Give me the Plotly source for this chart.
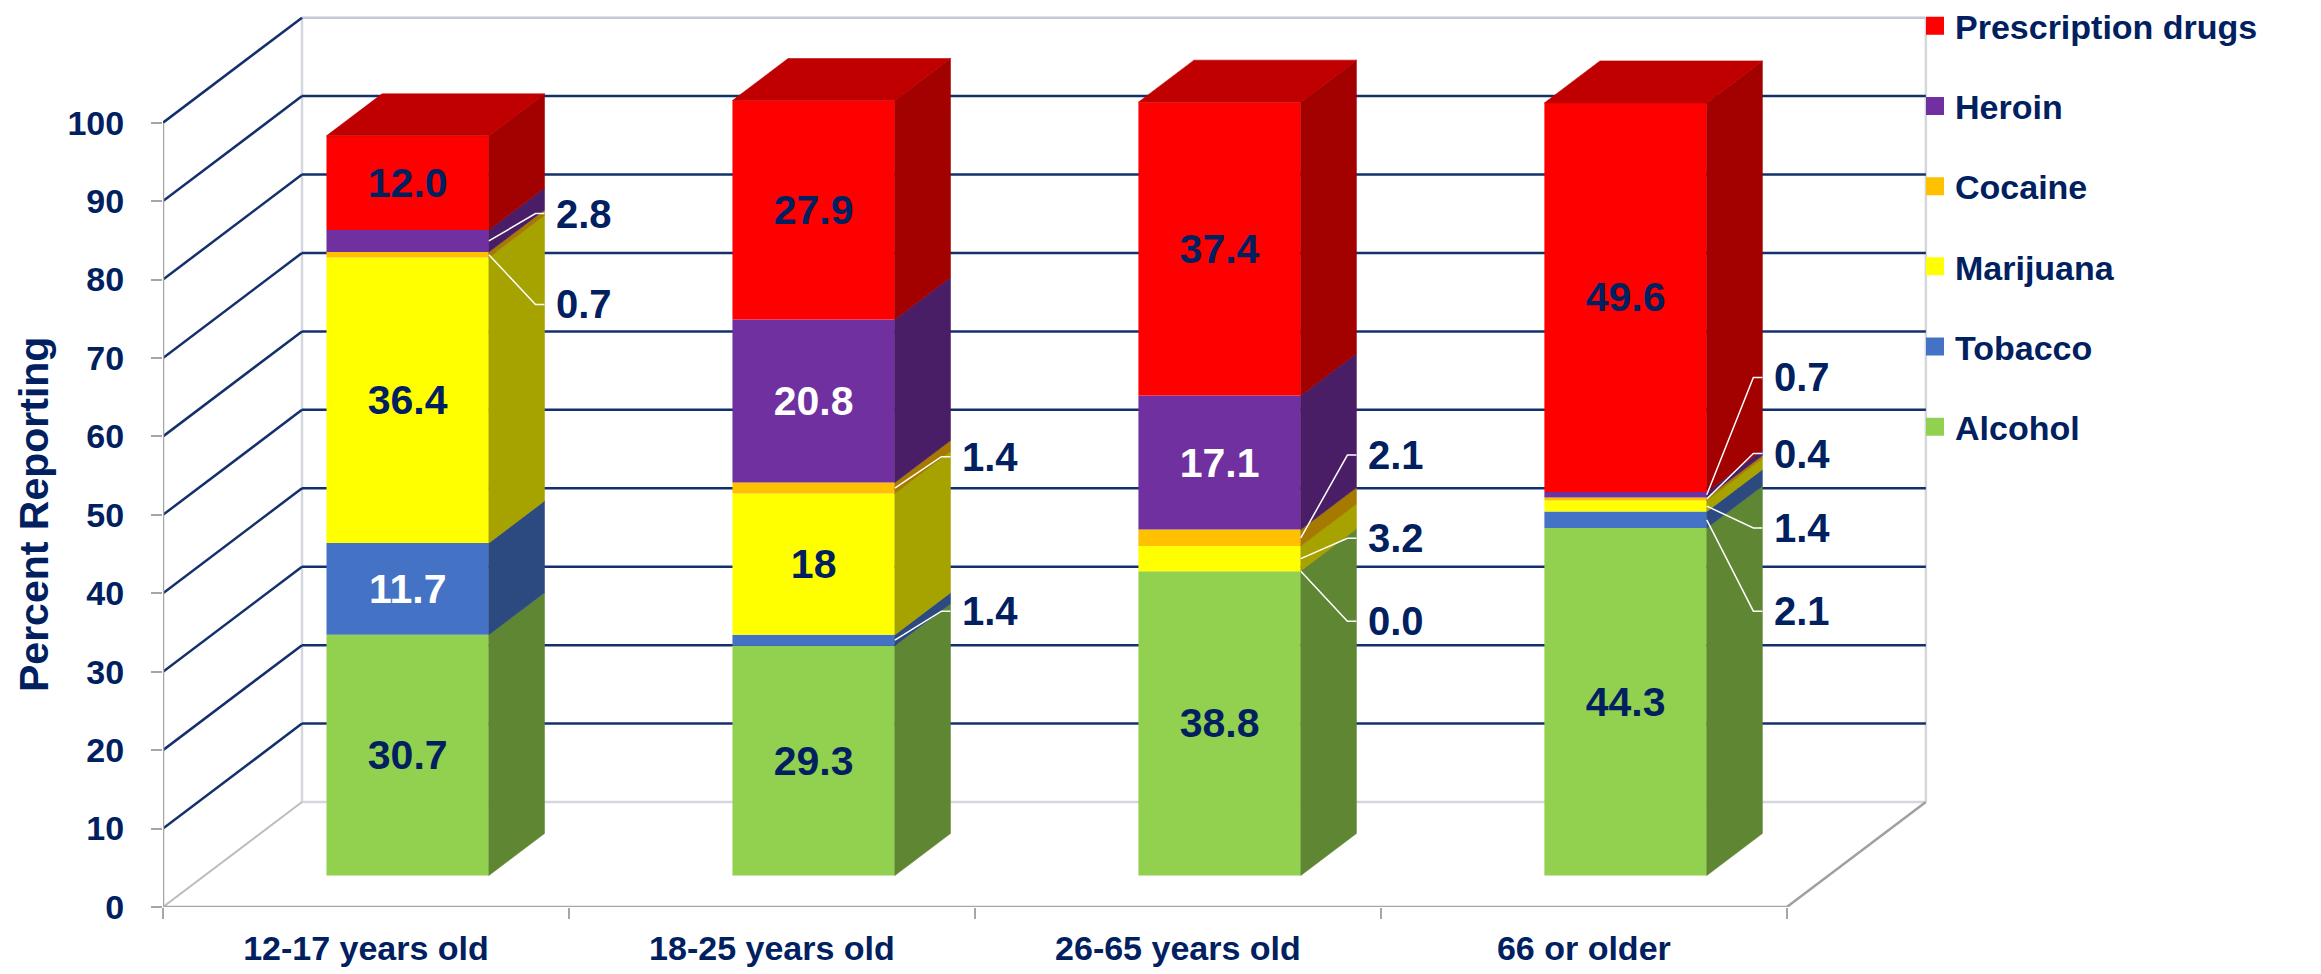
import plotly.graph_objects as go

# ---------------- data ----------------
categories = ["12-17 years old", "18-25 years old", "26-65 years old", "66 or older"]
series_names = ["Alcohol", "Tobacco", "Marijuana", "Cocaine", "Heroin", "Prescription drugs"]
alcohol = [30.7, 29.3, 38.8, 44.3]
tobacco = [11.7, 1.4, 0.0, 2.1]
marijuana = [36.4, 18, 3.2, 1.4]
cocaine = [0.7, 1.4, 2.1, 0.4]
heroin = [2.8, 20.8, 17.1, 0.7]
prescription = [12.0, 27.9, 37.4, 49.6]
y_ticks = list(range(0, 101, 10))
series_values = [alcohol, tobacco, marijuana, cocaine, heroin, prescription]

# ---------------- styles ----------------
front_colors = ["#92D050", "#4472C4", "#FFFF00", "#FFC000", "#7030A0", "#FF0000"]
side_colors = ["#5F8733", "#2D4A80", "#A6A300", "#A67A00", "#4A1E66", "#A30000"]
top_color = "#C00000"
inside_text_colors = ["#002060", "#FFFFFF", "#002060", "#002060", "#FFFFFF", "#002060"]
NAVY = "#002060"
GRID = "#13306C"
WALL = "#D4D7DD"
AXIS = "#A6A6A6"
FONT = "Liberation Sans, Arial, sans-serif"

# outside data-label placement (series index, category index) -> label height on bar front plane
outside_label_pos = {
    (4, 0): 84.4, (3, 0): 72.8,
    (3, 1): 53.4, (1, 1): 33.7,
    (3, 2): 53.6, (2, 2): 43.0, (1, 2): 32.4,
    (4, 3): 63.5, (3, 3): 53.8, (2, 3): 44.3, (1, 3): 33.7,
}

# ---------------- 3-D projection geometry ----------------
W, H = 2321, 974
ML, MR, MT, MB = 163, 388, 5, 67
X0, X1 = -0.5, 3.86
Y0, Y1 = 0, 115
px_x = (W - ML - MR) / (X1 - X0)
px_y = (H - MT - MB) / (Y1 - Y0)
DX = 139 / px_x          # full depth, x-direction (data units)
DY = 105 / px_y          # full depth, y-direction (data units)
FRONT = 0.3              # bar front plane depth fraction
BDEPTH = 0.4             # bar depth fraction
BAR_W = 0.4
ox, oy = FRONT * DX, FRONT * DY
ddx, ddy = BDEPTH * DX, BDEPTH * DY
n = len(categories)

fig = go.Figure()

# stacked bases
bases = []
cum = [0.0] * n
for vals in series_values:
    bases.append(cum[:])
    cum = [c + v for c, v in zip(cum, vals)]

# side faces (drawn as filled polygons)
for s, vals in enumerate(series_values):
    xs, ys = [], []
    for i in range(n):
        xr = i + ox + BAR_W / 2
        b = bases[s][i] + oy
        t = b + vals[i]
        xs += [xr, xr + ddx, xr + ddx, xr, xr, None]
        ys += [b, b + ddy, t + ddy, t, b, None]
    fig.add_trace(go.Scatter(x=xs, y=ys, mode="lines", fill="toself",
                             fillcolor=side_colors[s],
                             line=dict(color=side_colors[s], width=0.6),
                             hoverinfo="skip", showlegend=False))

# top faces
xs, ys = [], []
for i in range(n):
    xl = i + ox - BAR_W / 2
    xr = i + ox + BAR_W / 2
    t = cum[i] + oy
    xs += [xl, xl + ddx, xr + ddx, xr, xl, None]
    ys += [t, t + ddy, t + ddy, t, t, None]
fig.add_trace(go.Scatter(x=xs, y=ys, mode="lines", fill="toself", fillcolor=top_color,
                         line=dict(color=top_color, width=0.6),
                         hoverinfo="skip", showlegend=False))

# front faces as bars
for s, vals in enumerate(series_values):
    texts = []
    for i, v in enumerate(vals):
        texts.append("" if (s, i) in outside_label_pos else f"{v}")
    fig.add_trace(go.Bar(
        x=[i + ox for i in range(n)], y=vals,
        base=[b + oy for b in bases[s]],
        width=BAR_W, marker=dict(color=front_colors[s], line=dict(width=0)),
        text=texts, textposition="inside", insidetextanchor="middle",
        textangle=0, constraintext="none",
        insidetextfont=dict(size=41, color=inside_text_colors[s], family=FONT, weight="bold"),
        name=series_names[s], showlegend=False, hoverinfo="skip"))

# leader lines + outside labels
lx, ly = [], []
elbow = 9 / px_x
for (s, i), pos in outside_label_pos.items():
    xr = i + ox + BAR_W / 2
    yc = bases[s][i] + series_values[s][i] / 2 + oy
    yl = pos + oy
    lx += [xr, xr + ddx - elbow, xr + ddx, None]
    ly += [yc, yl, yl, None]
    fig.add_annotation(x=xr + ddx + 10 / px_x, y=yl, xref="x", yref="y",
                       text=f"{series_values[s][i]}", showarrow=False,
                       xanchor="left", yanchor="middle",
                       font=dict(size=40, color=NAVY, family=FONT, weight="bold"))
fig.add_trace(go.Scatter(x=lx, y=ly, mode="lines", line=dict(color="white", width=1.5),
                         hoverinfo="skip", showlegend=False))

# legend entries
for s in reversed(range(len(series_names))):
    fig.add_trace(go.Scatter(x=[None], y=[None], mode="markers", name=series_names[s],
                             legendgroup=series_names[s],
                             marker=dict(symbol="square", size=16, color=front_colors[s],
                                         line=dict(color=front_colors[s], width=2))))

# walls, floor and gridlines
shapes = []
def line(x0, y0, x1, y1, color, width):
    shapes.append(dict(type="line", xref="x", yref="y", x0=x0, y0=y0, x1=x1, y1=y1,
                       line=dict(color=color, width=width), layer="below"))

bx0, bx1 = -0.5 + DX, n - 0.5 + DX
# left wall back edge, back wall edges, floor back edge
line(bx0, DY, bx0, 100 + DY, WALL, 2.5)
line(bx1, DY, bx1, 100 + DY, WALL, 2.5)
line(bx0, 100 + DY, bx1, 100 + DY, "#C3C8D2", 2.5)
line(bx0, DY, bx1, DY, WALL, 2.5)
# floor side edges
line(-0.5, 0, bx0, DY, "#BDBDBD", 2)
line(n - 0.5, 0, bx1, DY, "#A0A0A0", 2.5)
# back wall gridlines
for v in y_ticks[1:-1]:
    line(bx0, v + DY, bx1, v + DY, GRID, 2.5)
# left wall gridlines
for v in y_ticks[1:]:
    line(-0.5, v, bx0, v + DY, GRID, 2.5)
# front axes
line(-0.5, 0, -0.5, 100, AXIS, 2.5)
line(-0.5, 0, n - 0.5, 0, AXIS, 2.5)

# y-axis title
fig.add_annotation(text="Percent Reporting", xref="paper", yref="paper",
                   x=(34 - ML) / (W - ML - MR), y=(H - MB - 515) / (H - MT - MB),
                   textangle=-90, showarrow=False, xanchor="center", yanchor="middle",
                   font=dict(size=41, color=NAVY, family=FONT, weight="bold"))

fig.update_layout(
    width=W, height=H,
    margin=dict(l=ML, r=MR, t=MT, b=MB, autoexpand=False),
    paper_bgcolor="white", plot_bgcolor="white",
    barmode="overlay", shapes=shapes,
    font=dict(family=FONT, color=NAVY),
    xaxis=dict(range=[X0, X1], showgrid=False, zeroline=False, showline=False,
               tickvals=list(range(n)), ticktext=categories, ticks="",
               ticklabelstandoff=18,
               tickfont=dict(size=34, color=NAVY, family=FONT, weight="bold"),
               minor=dict(tickvals=[i - 0.5 for i in range(n + 1)], ticks="outside",
                          ticklen=11, tickwidth=2, tickcolor=AXIS)),
    yaxis=dict(range=[Y0, Y1], showgrid=False, zeroline=False, showline=False,
               tickvals=y_ticks, ticks="outside", ticklen=11, tickwidth=2, tickcolor=AXIS,
               ticklabelstandoff=20,
               tickfont=dict(size=34, color=NAVY, family=FONT, weight="bold")),
    legend=dict(x=(1915 - ML) / (W - ML - MR), y=1.0087, xanchor="left", yanchor="top",
                traceorder="grouped", tracegroupgap=33, itemsizing="trace",
                font=dict(size=34, color=NAVY, family=FONT, weight="bold"),
                bgcolor="rgba(0,0,0,0)"),
)

fig.write_html("out.html", config={"displayModeBar": False},
               post_script="document.body.style.margin='0';")
